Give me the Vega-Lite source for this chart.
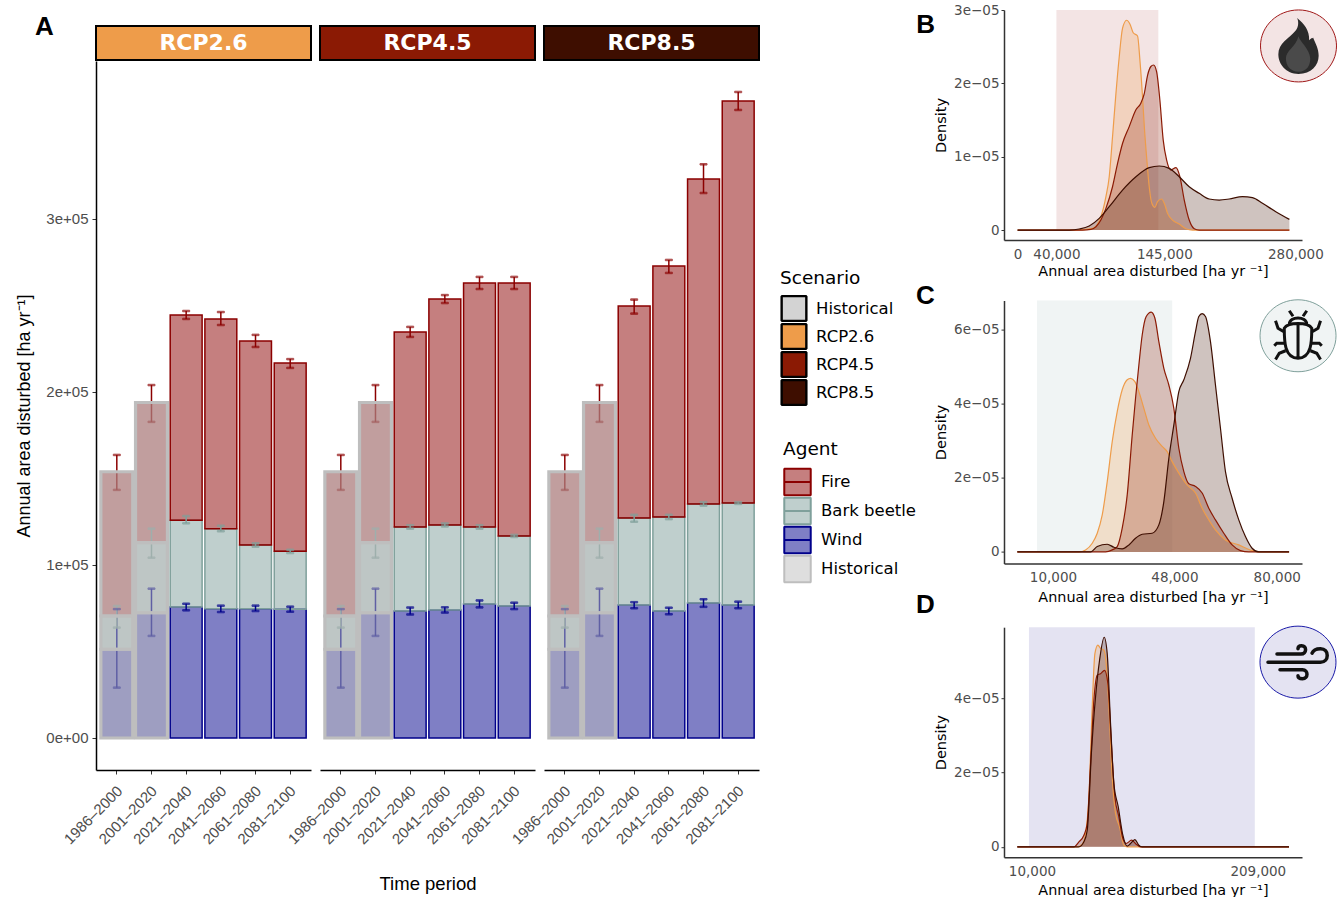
{"$schema":"https://vega.github.io/schema/vega-lite/v6.json","padding":{"left":15,"top":3,"right":0,"bottom":0},"background":"white","align":"none","config":{"view":{"stroke":null},"font":"DejaVu Sans","legend":{"orient":"none"}},"resolve":{"scale":{"fill":"independent","stroke":"independent","color":"independent"},"legend":{"fill":"independent","stroke":"independent","color":"independent"}},"spacing":0,"datasets":{"icon":[{"icon":"agent"}],"strips":[{"scenario":"RCP2.6"},{"scenario":"RCP4.5"},{"scenario":"RCP8.5"}],"bars":[
{"panel":"Historical","period":"1986–2000","agent":"Wind","rank":1,"value":51300,"lo":29100,"hi":74500},
{"panel":"Historical","period":"1986–2000","agent":"Bark beetle","rank":2,"value":19200,"lo":63800,"hi":76300},
{"panel":"Historical","period":"1986–2000","agent":"Fire","rank":3,"value":83400,"lo":143400,"hi":163600},
{"panel":"Historical","period":"2001–2020","agent":"Wind","rank":1,"value":72400,"lo":59000,"hi":86300},
{"panel":"Historical","period":"2001–2020","agent":"Bark beetle","rank":2,"value":40500,"lo":104200,"hi":121000},
{"panel":"Historical","period":"2001–2020","agent":"Fire","rank":3,"value":81000,"lo":182700,"hi":204000},
{"panel":"RCP2.6","period":"2021–2040","agent":"Wind","rank":1,"value":75700,"lo":73800,"hi":77600},
{"panel":"RCP2.6","period":"2021–2040","agent":"Bark beetle","rank":2,"value":50100,"lo":124100,"hi":128300},
{"panel":"RCP2.6","period":"2021–2040","agent":"Fire","rank":3,"value":118700,"lo":242200,"hi":246800},
{"panel":"RCP2.6","period":"2041–2060","agent":"Wind","rank":1,"value":74700,"lo":72800,"hi":76500},
{"panel":"RCP2.6","period":"2041–2060","agent":"Bark beetle","rank":2,"value":46300,"lo":119500,"hi":122700},
{"panel":"RCP2.6","period":"2041–2060","agent":"Fire","rank":3,"value":121200,"lo":238700,"hi":246200},
{"panel":"RCP2.6","period":"2061–2080","agent":"Wind","rank":1,"value":74700,"lo":73400,"hi":76500},
{"panel":"RCP2.6","period":"2061–2080","agent":"Bark beetle","rank":2,"value":36900,"lo":110600,"hi":112500},
{"panel":"RCP2.6","period":"2061–2080","agent":"Fire","rank":3,"value":117900,"lo":226000,"hi":233000},
{"panel":"RCP2.6","period":"2081–2100","agent":"Wind","rank":1,"value":74400,"lo":73000,"hi":75900},
{"panel":"RCP2.6","period":"2081–2100","agent":"Bark beetle","rank":2,"value":33500,"lo":106900,"hi":108800},
{"panel":"RCP2.6","period":"2081–2100","agent":"Fire","rank":3,"value":108900,"lo":213900,"hi":219000},
{"panel":"RCP4.5","period":"2021–2040","agent":"Wind","rank":1,"value":73400,"lo":71400,"hi":75400},
{"panel":"RCP4.5","period":"2021–2040","agent":"Bark beetle","rank":2,"value":48600,"lo":121000,"hi":123000},
{"panel":"RCP4.5","period":"2021–2040","agent":"Fire","rank":3,"value":112700,"lo":231800,"hi":237600},
{"panel":"RCP4.5","period":"2041–2060","agent":"Wind","rank":1,"value":74000,"lo":72500,"hi":75500},
{"panel":"RCP4.5","period":"2041–2060","agent":"Bark beetle","rank":2,"value":49100,"lo":122300,"hi":124000},
{"panel":"RCP4.5","period":"2041–2060","agent":"Fire","rank":3,"value":130700,"lo":251400,"hi":256000},
{"panel":"RCP4.5","period":"2061–2080","agent":"Wind","rank":1,"value":77500,"lo":75500,"hi":79500},
{"panel":"RCP4.5","period":"2061–2080","agent":"Bark beetle","rank":2,"value":44500,"lo":121000,"hi":123000},
{"panel":"RCP4.5","period":"2061–2080","agent":"Fire","rank":3,"value":141000,"lo":259500,"hi":266500},
{"panel":"RCP4.5","period":"2081–2100","agent":"Wind","rank":1,"value":76300,"lo":74500,"hi":78200},
{"panel":"RCP4.5","period":"2081–2100","agent":"Bark beetle","rank":2,"value":40500,"lo":116200,"hi":117400},
{"panel":"RCP4.5","period":"2081–2100","agent":"Fire","rank":3,"value":146200,"lo":259500,"hi":266500},
{"panel":"RCP8.5","period":"2021–2040","agent":"Wind","rank":1,"value":76900,"lo":75000,"hi":78500},
{"panel":"RCP8.5","period":"2021–2040","agent":"Bark beetle","rank":2,"value":50300,"lo":125000,"hi":129000},
{"panel":"RCP8.5","period":"2021–2040","agent":"Fire","rank":3,"value":122500,"lo":245300,"hi":253400},
{"panel":"RCP8.5","period":"2041–2060","agent":"Wind","rank":1,"value":73400,"lo":71500,"hi":75300},
{"panel":"RCP8.5","period":"2041–2060","agent":"Bark beetle","rank":2,"value":54300,"lo":126500,"hi":129000},
{"panel":"RCP8.5","period":"2041–2060","agent":"Fire","rank":3,"value":145100,"lo":268800,"hi":276300},
{"panel":"RCP8.5","period":"2061–2080","agent":"Wind","rank":1,"value":78000,"lo":75800,"hi":80200},
{"panel":"RCP8.5","period":"2061–2080","agent":"Bark beetle","rank":2,"value":57300,"lo":134300,"hi":136300},
{"panel":"RCP8.5","period":"2061–2080","agent":"Fire","rank":3,"value":187800,"lo":315000,"hi":331600},
{"panel":"RCP8.5","period":"2081–2100","agent":"Wind","rank":1,"value":76900,"lo":75000,"hi":78800},
{"panel":"RCP8.5","period":"2081–2100","agent":"Bark beetle","rank":2,"value":58900,"lo":135300,"hi":136300},
{"panel":"RCP8.5","period":"2081–2100","agent":"Fire","rank":3,"value":232400,"lo":363000,"hi":373400}
],"fire":[
{"s":"RCP2.6","x":0,"y":0},{"s":"RCP2.6","x":60000,"y":0},{"s":"RCP2.6","x":77200,"y":2.3e-7},{"s":"RCP2.6","x":85800,"y":1.82e-6},{"s":"RCP2.6","x":91000,"y":4.55e-6},{"s":"RCP2.6","x":94400,"y":7.27e-6},{"s":"RCP2.6","x":97800,"y":1.27e-5},{"s":"RCP2.6","x":101300,"y":1.86e-5},{"s":"RCP2.6","x":104700,"y":2.36e-5},{"s":"RCP2.6","x":108100,"y":2.75e-5},{"s":"RCP2.6","x":112300,"y":2.86e-5},{"s":"RCP2.6","x":115700,"y":2.81e-5},{"s":"RCP2.6","x":119100,"y":2.69e-5},{"s":"RCP2.6","x":123600,"y":2.645e-5},{"s":"RCP2.6","x":126000,"y":2.32e-5},{"s":"RCP2.6","x":128700,"y":1.82e-5},{"s":"RCP2.6","x":130800,"y":1.36e-5},{"s":"RCP2.6","x":132900,"y":1e-5},{"s":"RCP2.6","x":135600,"y":5.9e-6},{"s":"RCP2.6","x":138300,"y":3.64e-6},{"s":"RCP2.6","x":141400,"y":3.09e-6},{"s":"RCP2.6","x":144200,"y":3.86e-6},{"s":"RCP2.6","x":148300,"y":4.23e-6},{"s":"RCP2.6","x":151400,"y":3.55e-6},{"s":"RCP2.6","x":154500,"y":2.27e-6},{"s":"RCP2.6","x":159600,"y":1.36e-6},{"s":"RCP2.6","x":166500,"y":8.2e-7},{"s":"RCP2.6","x":173400,"y":1.8e-7},{"s":"RCP2.6","x":180200,"y":0},{"s":"RCP2.6","x":280000,"y":0},
{"s":"RCP4.5","x":0,"y":0},{"s":"RCP4.5","x":66900,"y":0},{"s":"RCP4.5","x":75500,"y":9e-8},{"s":"RCP4.5","x":80700,"y":4.5e-7},{"s":"RCP4.5","x":85800,"y":1.36e-6},{"s":"RCP4.5","x":91000,"y":2.95e-6},{"s":"RCP4.5","x":97800,"y":5.9e-6},{"s":"RCP4.5","x":103000,"y":9.09e-6},{"s":"RCP4.5","x":108100,"y":1.18e-5},{"s":"RCP4.5","x":115000,"y":1.41e-5},{"s":"RCP4.5","x":121900,"y":1.64e-5},{"s":"RCP4.5","x":127000,"y":1.73e-5},{"s":"RCP4.5","x":130500,"y":1.86e-5},{"s":"RCP4.5","x":133900,"y":2.11e-5},{"s":"RCP4.5","x":137300,"y":2.23e-5},{"s":"RCP4.5","x":140100,"y":2.25e-5},{"s":"RCP4.5","x":143200,"y":2.16e-5},{"s":"RCP4.5","x":146600,"y":1.77e-5},{"s":"RCP4.5","x":150000,"y":1.23e-5},{"s":"RCP4.5","x":153500,"y":9.55e-6},{"s":"RCP4.5","x":157900,"y":8.18e-6},{"s":"RCP4.5","x":163100,"y":8.5e-6},{"s":"RCP4.5","x":167200,"y":7.27e-6},{"s":"RCP4.5","x":171700,"y":4.09e-6},{"s":"RCP4.5","x":176800,"y":1.36e-6},{"s":"RCP4.5","x":182000,"y":1.8e-7},{"s":"RCP4.5","x":187100,"y":0},{"s":"RCP4.5","x":280000,"y":0},
{"s":"RCP8.5","x":0,"y":0},{"s":"RCP8.5","x":40000,"y":0},{"s":"RCP8.5","x":53200,"y":0},{"s":"RCP8.5","x":63500,"y":1.4e-7},{"s":"RCP8.5","x":73800,"y":5.5e-7},{"s":"RCP8.5","x":84100,"y":1.59e-6},{"s":"RCP8.5","x":94400,"y":3.18e-6},{"s":"RCP8.5","x":108100,"y":5.45e-6},{"s":"RCP8.5","x":121900,"y":7.27e-6},{"s":"RCP8.5","x":135600,"y":8.5e-6},{"s":"RCP8.5","x":145900,"y":8.73e-6},{"s":"RCP8.5","x":156200,"y":8.41e-6},{"s":"RCP8.5","x":166500,"y":7.27e-6},{"s":"RCP8.5","x":176800,"y":5.9e-6},{"s":"RCP8.5","x":187100,"y":5e-6},{"s":"RCP8.5","x":197400,"y":4.23e-6},{"s":"RCP8.5","x":207700,"y":4.09e-6},{"s":"RCP8.5","x":218000,"y":4.23e-6},{"s":"RCP8.5","x":231700,"y":4.55e-6},{"s":"RCP8.5","x":242000,"y":4.41e-6},{"s":"RCP8.5","x":252300,"y":3.64e-6},{"s":"RCP8.5","x":266000,"y":2.5e-6},{"s":"RCP8.5","x":280000,"y":1.45e-6}
],"beetle":[
{"s":"RCP2.6","x":-1146,"y":0},{"s":"RCP2.6","x":18125,"y":0},{"s":"RCP2.6","x":20208,"y":5.4e-7},{"s":"RCP2.6","x":22292,"y":2.34e-6},{"s":"RCP2.6","x":23854,"y":5.05e-6},{"s":"RCP2.6","x":25417,"y":1e-5},{"s":"RCP2.6","x":26979,"y":1.9e-5},{"s":"RCP2.6","x":28542,"y":2.98e-5},{"s":"RCP2.6","x":30104,"y":3.79e-5},{"s":"RCP2.6","x":31667,"y":4.38e-5},{"s":"RCP2.6","x":33229,"y":4.65e-5},{"s":"RCP2.6","x":34271,"y":4.69e-5},{"s":"RCP2.6","x":35625,"y":4.6e-5},{"s":"RCP2.6","x":36875,"y":4.33e-5},{"s":"RCP2.6","x":38438,"y":3.88e-5},{"s":"RCP2.6","x":40000,"y":3.43e-5},{"s":"RCP2.6","x":42083,"y":3.07e-5},{"s":"RCP2.6","x":44167,"y":2.85e-5},{"s":"RCP2.6","x":45729,"y":2.71e-5},{"s":"RCP2.6","x":47292,"y":2.44e-5},{"s":"RCP2.6","x":49375,"y":2.13e-5},{"s":"RCP2.6","x":51979,"y":1.81e-5},{"s":"RCP2.6","x":54583,"y":1.59e-5},{"s":"RCP2.6","x":56667,"y":1.18e-5},{"s":"RCP2.6","x":58750,"y":8.65e-6},{"s":"RCP2.6","x":60833,"y":5.95e-6},{"s":"RCP2.6","x":63958,"y":3.24e-6},{"s":"RCP2.6","x":68125,"y":1.89e-6},{"s":"RCP2.6","x":72292,"y":3.6e-7},{"s":"RCP2.6","x":74375,"y":0},{"s":"RCP2.6","x":83854,"y":0},
{"s":"RCP4.5","x":-1146,"y":0},{"s":"RCP4.5","x":26458,"y":0},{"s":"RCP4.5","x":28542,"y":5.4e-7},{"s":"RCP4.5","x":30104,"y":1.44e-6},{"s":"RCP4.5","x":31667,"y":6.4e-6},{"s":"RCP4.5","x":33229,"y":1.54e-5},{"s":"RCP4.5","x":34792,"y":3.16e-5},{"s":"RCP4.5","x":35833,"y":4.15e-5},{"s":"RCP4.5","x":36875,"y":5.05e-5},{"s":"RCP4.5","x":37917,"y":5.86e-5},{"s":"RCP4.5","x":39167,"y":6.36e-5},{"s":"RCP4.5","x":40729,"y":6.48e-5},{"s":"RCP4.5","x":41875,"y":6.32e-5},{"s":"RCP4.5","x":43125,"y":5.68e-5},{"s":"RCP4.5","x":44688,"y":4.96e-5},{"s":"RCP4.5","x":46250,"y":4.51e-5},{"s":"RCP4.5","x":47813,"y":3.88e-5},{"s":"RCP4.5","x":49375,"y":2.8e-5},{"s":"RCP4.5","x":50938,"y":2.17e-5},{"s":"RCP4.5","x":52500,"y":1.84e-5},{"s":"RCP4.5","x":54583,"y":1.77e-5},{"s":"RCP4.5","x":56667,"y":1.59e-5},{"s":"RCP4.5","x":58750,"y":1.18e-5},{"s":"RCP4.5","x":60833,"y":8.65e-6},{"s":"RCP4.5","x":63438,"y":5.05e-6},{"s":"RCP4.5","x":66042,"y":1.89e-6},{"s":"RCP4.5","x":68646,"y":3.6e-7},{"s":"RCP4.5","x":71250,"y":0},{"s":"RCP4.5","x":83854,"y":0},
{"s":"RCP8.5","x":-1146,"y":0},{"s":"RCP8.5","x":21771,"y":0},{"s":"RCP8.5","x":23854,"y":1.44e-6},{"s":"RCP8.5","x":26979,"y":2.07e-6},{"s":"RCP8.5","x":29063,"y":1.26e-6},{"s":"RCP8.5","x":31667,"y":8.1e-7},{"s":"RCP8.5","x":33750,"y":1.89e-6},{"s":"RCP8.5","x":35833,"y":3.69e-6},{"s":"RCP8.5","x":37917,"y":4.77e-6},{"s":"RCP8.5","x":41042,"y":5.05e-6},{"s":"RCP8.5","x":43125,"y":7.3e-6},{"s":"RCP8.5","x":44688,"y":1.36e-5},{"s":"RCP8.5","x":46250,"y":2.53e-5},{"s":"RCP8.5","x":47813,"y":3.43e-5},{"s":"RCP8.5","x":49375,"y":4.33e-5},{"s":"RCP8.5","x":50938,"y":4.65e-5},{"s":"RCP8.5","x":53021,"y":5.23e-5},{"s":"RCP8.5","x":54583,"y":5.95e-5},{"s":"RCP8.5","x":55625,"y":6.36e-5},{"s":"RCP8.5","x":56667,"y":6.44e-5},{"s":"RCP8.5","x":57708,"y":6.36e-5},{"s":"RCP8.5","x":59271,"y":5.68e-5},{"s":"RCP8.5","x":60833,"y":4.51e-5},{"s":"RCP8.5","x":62396,"y":3.34e-5},{"s":"RCP8.5","x":63958,"y":2.17e-5},{"s":"RCP8.5","x":66042,"y":1.45e-5},{"s":"RCP8.5","x":68125,"y":8.65e-6},{"s":"RCP8.5","x":70208,"y":4.14e-6},{"s":"RCP8.5","x":72292,"y":9.9e-7},{"s":"RCP8.5","x":74375,"y":0},{"s":"RCP8.5","x":83854,"y":0}
],"wind":[
{"s":"RCP2.6","x":-270,"y":0},{"s":"RCP2.6","x":52543,"y":0},{"s":"RCP2.6","x":56944,"y":7.2e-7},{"s":"RCP2.6","x":59878,"y":3.59e-6},{"s":"RCP2.6","x":62812,"y":1.35e-5},{"s":"RCP2.6","x":65746,"y":3.77e-5},{"s":"RCP2.6","x":68093,"y":5.2e-5},{"s":"RCP2.6","x":70734,"y":5.43e-5},{"s":"RCP2.6","x":73081,"y":5.34e-5},{"s":"RCP2.6","x":76015,"y":5.29e-5},{"s":"RCP2.6","x":78069,"y":4.93e-5},{"s":"RCP2.6","x":80416,"y":3.77e-5},{"s":"RCP2.6","x":83350,"y":1.88e-5},{"s":"RCP2.6","x":86284,"y":9e-6},{"s":"RCP2.6","x":89805,"y":5.4e-6},{"s":"RCP2.6","x":93619,"y":4.5e-7},{"s":"RCP2.6","x":96553,"y":0},{"s":"RCP2.6","x":239150,"y":0},
{"s":"RCP4.5","x":-270,"y":0},{"s":"RCP4.5","x":49609,"y":0},{"s":"RCP4.5","x":54010,"y":1.35e-6},{"s":"RCP4.5","x":58411,"y":3.14e-6},{"s":"RCP4.5","x":61345,"y":6.28e-6},{"s":"RCP4.5","x":64279,"y":2.24e-5},{"s":"RCP4.5","x":67213,"y":3.95e-5},{"s":"RCP4.5","x":70147,"y":4.62e-5},{"s":"RCP4.5","x":73081,"y":4.66e-5},{"s":"RCP4.5","x":76602,"y":4.75e-5},{"s":"RCP4.5","x":79536,"y":4.39e-5},{"s":"RCP4.5","x":82470,"y":2.87e-5},{"s":"RCP4.5","x":85697,"y":1.35e-5},{"s":"RCP4.5","x":89218,"y":8.07e-6},{"s":"RCP4.5","x":92739,"y":2.24e-6},{"s":"RCP4.5","x":95673,"y":9e-7},{"s":"RCP4.5","x":100367,"y":1.79e-6},{"s":"RCP4.5","x":104475,"y":7.2e-7},{"s":"RCP4.5","x":108289,"y":0},{"s":"RCP4.5","x":239150,"y":0},
{"s":"RCP8.5","x":-270,"y":0},{"s":"RCP8.5","x":54010,"y":0},{"s":"RCP8.5","x":58411,"y":1.35e-6},{"s":"RCP8.5","x":61345,"y":4.48e-6},{"s":"RCP8.5","x":65159,"y":2.6e-5},{"s":"RCP8.5","x":68680,"y":4.04e-5},{"s":"RCP8.5","x":72201,"y":5.02e-5},{"s":"RCP8.5","x":76308,"y":5.64e-5},{"s":"RCP8.5","x":78949,"y":5.2e-5},{"s":"RCP8.5","x":81883,"y":3.32e-5},{"s":"RCP8.5","x":84817,"y":1.7e-5},{"s":"RCP8.5","x":88631,"y":1.08e-5},{"s":"RCP8.5","x":92739,"y":3.14e-6},{"s":"RCP8.5","x":96553,"y":1.8e-7},{"s":"RCP8.5","x":99487,"y":9e-7},{"s":"RCP8.5","x":103301,"y":1.97e-6},{"s":"RCP8.5","x":106822,"y":4.5e-7},{"s":"RCP8.5","x":109756,"y":0},{"s":"RCP8.5","x":239150,"y":0}
]},
"hconcat":[
{"spacing":0,"resolve":{"scale":{"fill":"independent","stroke":"independent","color":"independent"},"legend":{"fill":"independent","stroke":"independent","color":"independent"}},"vconcat":[
{"width":215,"height":4,"data":{"name":"strips"},"transform":[{"filter":"false"}],"mark":{"type":"rect"},"encoding":{}},
{"spacing":-27,"resolve":{"scale":{"fill":"independent","stroke":"independent","color":"independent"},"legend":{"fill":"independent","stroke":"independent","color":"independent"}},"hconcat":[
{"spacing":0,"resolve":{"scale":{"fill":"independent","stroke":"independent"},"legend":{"fill":"independent","stroke":"independent"}},"vconcat":[
{"width":215,"height":34,"data":{"name":"strips"},"transform":[{"filter":"datum.scenario=='RCP2.6'"}],"layer":[{"mark":{"type":"rect","stroke":"black","strokeWidth":2},"encoding":{"fill":{"field":"scenario","type":"nominal","legend":null,"scale":{"domain":["Historical","RCP2.6","RCP4.5","RCP8.5"],"range":["#D3D3D3","#EE9C4A","#8B1A04","#3E0E00"]}}}},{"mark":{"type":"text","font":"DejaVu Sans","fontSize":22,"fontWeight":"bold","color":"white"},"encoding":{"text":{"field":"scenario"}}},{"mark":{"type":"text","text":"A","align":"left","baseline":"alphabetic","dx":-168.5,"dy":-8,"font":"Liberation Sans","fontSize":26,"fontWeight":"bold","color":"black"},"encoding":{}}]},
{"width":215,"height":709,"data":{"name":"bars"},"transform":[{"filter":"datum.panel=='RCP2.6'||datum.panel=='Historical'"}],"encoding":{"x":{"field":"period","type":"nominal","sort":["1986–2000","2001–2020","2021–2040","2041–2060","2061–2080","2081–2100"],"scale":{"type":"band","paddingInner":0,"paddingOuter":0.1,"domain":["1986–2000","2001–2020","2021–2040","2041–2060","2061–2080","2081–2100"]},"axis":{"title":null,"labelAngle":-45,"labelAlign":"right","labelBaseline":"middle","labelOffset":3,"labelFont":"Liberation Sans","labelFontSize":15,"labelColor":"#4D4D4D","domainColor":"black","domainWidth":1.5,"tickColor":"#333333","tickSize":4,"labelPadding":14,"grid":false}}},"layer":[
{"mark":{"type":"bar","fillOpacity":0.5,"strokeWidth":1.5,"width":{"band":0.92}},"encoding":{"y":{"field":"value","type":"quantitative","stack":"zero","scale":{"domain":[-18500,391300],"nice":false,"zero":false},"axis":{"title":"Annual area disturbed [ha yr⁻¹]","titleFont":"Liberation Sans","titleFontSize":18,"titleFontWeight":"normal","titleColor":"black","titlePadding":12,"values":[0,100000,200000,300000],"labelExpr":"replace(format(datum.value,'.0e'),'e+','e+0')","labelFont":"Liberation Sans","labelFontSize":15,"labelColor":"#4D4D4D","labelPadding":4,"domainColor":"black","domainWidth":1.5,"tickColor":"#333333","tickSize":4,"grid":false}},"order":{"field":"rank"},"fill":{"field":"agent","type":"nominal","legend":null,"scale":{"domain":["Fire","Bark beetle","Wind","Historical"],"range":["#8B0000","#7FA09B","#00008B","#BEBEBE"]}},"stroke":{"field":"agent","type":"nominal","legend":null,"scale":{"domain":["Fire","Bark beetle","Wind","Historical"],"range":["#8B0000","#7FA09B","#00008B","#BEBEBE"]}}}},
{"mark":{"type":"rule","strokeWidth":1.5},"encoding":{"y":{"field":"lo","type":"quantitative"},"y2":{"field":"hi"},"stroke":{"field":"agent","type":"nominal","legend":null}}},
{"mark":{"type":"tick","size":7,"thickness":1.5},"encoding":{"y":{"field":"lo","type":"quantitative"},"fill":{"field":"agent","type":"nominal","legend":null},"stroke":{"field":"agent","type":"nominal","legend":null}}},
{"mark":{"type":"tick","size":7,"thickness":1.5},"encoding":{"y":{"field":"hi","type":"quantitative"},"fill":{"field":"agent","type":"nominal","legend":null},"stroke":{"field":"agent","type":"nominal","legend":null}}},
{"transform":[{"filter":"datum.panel=='Historical'"}],"mark":{"type":"bar","fill":"#BEBEBE","fillOpacity":0.5,"stroke":"#BEBEBE","strokeWidth":3.2,"width":{"band":0.92}},"encoding":{"y":{"field":"value","type":"quantitative","stack":"zero"},"order":{"field":"rank"},"detail":{"field":"agent"}}}
]}
]},
{"spacing":0,"resolve":{"scale":{"fill":"independent","stroke":"independent"},"legend":{"fill":"independent","stroke":"independent"}},"vconcat":[
{"width":215,"height":34,"data":{"name":"strips"},"transform":[{"filter":"datum.scenario=='RCP4.5'"}],"layer":[{"mark":{"type":"rect","stroke":"black","strokeWidth":2},"encoding":{"fill":{"field":"scenario","type":"nominal","legend":null,"scale":{"domain":["Historical","RCP2.6","RCP4.5","RCP8.5"],"range":["#D3D3D3","#EE9C4A","#8B1A04","#3E0E00"]}}}},{"mark":{"type":"text","font":"DejaVu Sans","fontSize":22,"fontWeight":"bold","color":"white"},"encoding":{"text":{"field":"scenario"}}}]},
{"width":215,"height":709,"data":{"name":"bars"},"transform":[{"filter":"datum.panel=='RCP4.5'||datum.panel=='Historical'"}],"encoding":{"x":{"field":"period","type":"nominal","sort":["1986–2000","2001–2020","2021–2040","2041–2060","2061–2080","2081–2100"],"scale":{"type":"band","paddingInner":0,"paddingOuter":0.1,"domain":["1986–2000","2001–2020","2021–2040","2041–2060","2061–2080","2081–2100"]},"axis":{"title":"Time period","titleFont":"Liberation Sans","titleFontSize":18.5,"titleFontWeight":"normal","titleColor":"black","titlePadding":28,"labelAngle":-45,"labelAlign":"right","labelBaseline":"middle","labelOffset":3,"labelFont":"Liberation Sans","labelFontSize":15,"labelColor":"#4D4D4D","domainColor":"black","domainWidth":1.5,"tickColor":"#333333","tickSize":4,"labelPadding":14,"grid":false}}},"layer":[
{"mark":{"type":"bar","fillOpacity":0.5,"strokeWidth":1.5,"width":{"band":0.92}},"encoding":{"y":{"field":"value","type":"quantitative","stack":"zero","scale":{"domain":[-18500,391300],"nice":false,"zero":false},"axis":null},"order":{"field":"rank"},"fill":{"field":"agent","type":"nominal","legend":null,"scale":{"domain":["Fire","Bark beetle","Wind","Historical"],"range":["#8B0000","#7FA09B","#00008B","#BEBEBE"]}},"stroke":{"field":"agent","type":"nominal","legend":null,"scale":{"domain":["Fire","Bark beetle","Wind","Historical"],"range":["#8B0000","#7FA09B","#00008B","#BEBEBE"]}}}},
{"mark":{"type":"rule","strokeWidth":1.5},"encoding":{"y":{"field":"lo","type":"quantitative"},"y2":{"field":"hi"},"stroke":{"field":"agent","type":"nominal","legend":null}}},
{"mark":{"type":"tick","size":7,"thickness":1.5},"encoding":{"y":{"field":"lo","type":"quantitative"},"fill":{"field":"agent","type":"nominal","legend":null},"stroke":{"field":"agent","type":"nominal","legend":null}}},
{"mark":{"type":"tick","size":7,"thickness":1.5},"encoding":{"y":{"field":"hi","type":"quantitative"},"fill":{"field":"agent","type":"nominal","legend":null},"stroke":{"field":"agent","type":"nominal","legend":null}}},
{"transform":[{"filter":"datum.panel=='Historical'"}],"mark":{"type":"bar","fill":"#BEBEBE","fillOpacity":0.5,"stroke":"#BEBEBE","strokeWidth":3.2,"width":{"band":0.92}},"encoding":{"y":{"field":"value","type":"quantitative","stack":"zero"},"order":{"field":"rank"},"detail":{"field":"agent"}}}
]}
]},
{"spacing":0,"resolve":{"scale":{"fill":"independent","stroke":"independent","color":"independent"},"legend":{"fill":"independent","stroke":"independent","color":"independent"}},"vconcat":[
{"width":215,"height":34,"data":{"name":"strips"},"transform":[{"filter":"datum.scenario=='RCP8.5'"}],"layer":[{"mark":{"type":"rect","stroke":"black","strokeWidth":2},"encoding":{"fill":{"field":"scenario","type":"nominal","legend":null,"scale":{"domain":["Historical","RCP2.6","RCP4.5","RCP8.5"],"range":["#D3D3D3","#EE9C4A","#8B1A04","#3E0E00"]}}}},{"mark":{"type":"text","font":"DejaVu Sans","fontSize":22,"fontWeight":"bold","color":"white"},"encoding":{"text":{"field":"scenario"}}}]},
{"width":215,"height":709,"data":{"name":"bars"},"transform":[{"filter":"datum.panel=='RCP8.5'||datum.panel=='Historical'"}],"encoding":{"x":{"field":"period","type":"nominal","sort":["1986–2000","2001–2020","2021–2040","2041–2060","2061–2080","2081–2100"],"scale":{"type":"band","paddingInner":0,"paddingOuter":0.1,"domain":["1986–2000","2001–2020","2021–2040","2041–2060","2061–2080","2081–2100"]},"axis":{"title":null,"labelAngle":-45,"labelAlign":"right","labelBaseline":"middle","labelOffset":3,"labelFont":"Liberation Sans","labelFontSize":15,"labelColor":"#4D4D4D","domainColor":"black","domainWidth":1.5,"tickColor":"#333333","tickSize":4,"labelPadding":14,"grid":false}}},"layer":[
{"mark":{"type":"bar","fillOpacity":0.5,"strokeWidth":1.5,"width":{"band":0.92}},"encoding":{"y":{"field":"value","type":"quantitative","stack":"zero","scale":{"domain":[-18500,391300],"nice":false,"zero":false},"axis":null},"order":{"field":"rank"},"fill":{"field":"agent","type":"nominal","legend":{"title":"Agent","orient":"none","legendX":239,"legendY":379,"symbolType":"M-1,-1H1V1H-1ZM-1,0H1","symbolSize":576,"labelFont":"DejaVu Sans","labelFontSize":16.5,"labelColor":"black","labelOffset":9,"titleFont":"DejaVu Sans","titleFontSize":18.5,"titleFontWeight":"normal","titleColor":"black","titlePadding":9,"rowPadding":-4,"symbolStrokeWidth":2,"encode":{"symbols":{"update":{"size":{"value":700},"strokeJoin":{"value":"bevel"},"shape":{"signal":"datum.value=='Historical'?'square':'M-1,-1H1V1H-1ZM-1,0H1'"},"fillOpacity":{"value":0.5},"opacity":{"value":1}}}}},"scale":{"domain":["Fire","Bark beetle","Wind","Historical"],"range":["#8B0000","#7FA09B","#00008B","#BEBEBE"]}},"stroke":{"field":"agent","type":"nominal","legend":{"title":"Agent","orient":"none","legendX":239,"legendY":379,"symbolType":"M-1,-1H1V1H-1ZM-1,0H1","symbolSize":576,"labelFont":"DejaVu Sans","labelFontSize":16.5,"labelColor":"black","labelOffset":9,"titleFont":"DejaVu Sans","titleFontSize":18.5,"titleFontWeight":"normal","titleColor":"black","titlePadding":9,"rowPadding":-4,"symbolStrokeWidth":2,"encode":{"symbols":{"update":{"size":{"value":700},"strokeJoin":{"value":"bevel"},"shape":{"signal":"datum.value=='Historical'?'square':'M-1,-1H1V1H-1ZM-1,0H1'"},"fillOpacity":{"value":0.5},"opacity":{"value":1}}}}},"scale":{"domain":["Fire","Bark beetle","Wind","Historical"],"range":["#8B0000","#7FA09B","#00008B","#BEBEBE"]}}}},
{"mark":{"type":"rule","strokeWidth":1.5},"encoding":{"y":{"field":"lo","type":"quantitative"},"y2":{"field":"hi"},"stroke":{"field":"agent","type":"nominal","legend":null}}},
{"mark":{"type":"tick","size":7,"thickness":1.5},"encoding":{"y":{"field":"lo","type":"quantitative"},"fill":{"field":"agent","type":"nominal","legend":null},"stroke":{"field":"agent","type":"nominal","legend":null}}},
{"mark":{"type":"tick","size":7,"thickness":1.5},"encoding":{"y":{"field":"hi","type":"quantitative"},"fill":{"field":"agent","type":"nominal","legend":null},"stroke":{"field":"agent","type":"nominal","legend":null}}},
{"transform":[{"filter":"datum.panel=='Historical'"}],"mark":{"type":"bar","fill":"#BEBEBE","fillOpacity":0.5,"stroke":"#BEBEBE","strokeWidth":3.2,"width":{"band":0.92}},"encoding":{"y":{"field":"value","type":"quantitative","stack":"zero"},"order":{"field":"rank"},"detail":{"field":"agent"}}},
{"data":{"name":"strips"},"transform":[{"filter":"false"}],"mark":{"type":"rect"},"encoding":{"x":{"value":0},"y":{"value":0},"color":{"field":"scenario","type":"nominal","legend":{"title":"Scenario","orient":"none","legendX":236,"legendY":208,"symbolType":"square","symbolSize":400,"symbolStrokeColor":"black","symbolStrokeWidth":2.4,"symbolOpacity":1,"labelFont":"DejaVu Sans","labelFontSize":16.5,"labelColor":"black","labelOffset":8,"titleFont":"DejaVu Sans","titleFontSize":18.5,"titleFontWeight":"normal","titleColor":"black","titlePadding":7,"rowPadding":-4,"encode":{"symbols":{"update":{"size":{"value":610},"strokeJoin":{"value":"bevel"}}}}},"scale":{"domain":["Historical","RCP2.6","RCP4.5","RCP8.5"],"range":["#D3D3D3","#EE9C4A","#8B1A04","#3E0E00"]}}}}
]}
]}
]}
]},
{"spacing":-12.4,"resolve":{"scale":{"color":"independent"},"legend":{"color":"independent"}},"vconcat":[
{"width":298,"height":230,"layer":[
{"data":{"values":[{"lo":40000,"hi":145000,"base":0,"top":3e-5}]},"mark":{"type":"rect","fill":"#F3E4E4"},"encoding":{"x":{"field":"lo","type":"quantitative","scale":{"domain":[-14000,293000],"nice":false,"zero":false},"axis":{"title":"Annual area disturbed [ha yr ⁻¹]","titleFont":"DejaVu Sans","titleFontSize":14.4,"titleFontWeight":"normal","titleColor":"black","titlePadding":4,"values":[0,40000,145000,280000],"format":",.0f","labelFont":"DejaVu Sans","labelFontSize":13.5,"labelColor":"#4D4D4D","labelPadding":7,"labelOffset":{"condition":{"test":"datum.value>=145000","value":6},"value":0},"ticks":false,"domainColor":"#333333","domainWidth":1.5,"grid":false,"labelFlush":false,"labelOverlap":false}},"x2":{"field":"hi"},"y":{"field":"base","type":"quantitative","scale":{"domain":[-1.36e-6,3e-5],"nice":false,"zero":false},"axis":{"title":"Density","titleFont":"DejaVu Sans","titleFontSize":14.5,"titleFontWeight":"normal","titleColor":"black","titlePadding":5,"values":[0,1e-5,2e-5,3e-5],"labelExpr":"datum.value==0?'0':replace(format(datum.value,'.0e'),'e-','e−0')","labelFont":"DejaVu Sans","labelFontSize":13.5,"labelColor":"#4D4D4D","domainColor":"#333333","domainWidth":1.5,"tickColor":"#333333","tickSize":3,"grid":false}},"y2":{"field":"top"}}},
{"data":{"name":"fire"},"mark":{"type":"area","fillOpacity":0.25,"interpolate":"monotone"},"encoding":{"x":{"field":"x","type":"quantitative"},"y":{"field":"y","type":"quantitative","stack":null},"color":{"field":"s","type":"nominal","legend":null,"scale":{"domain":["RCP2.6","RCP4.5","RCP8.5"],"range":["#EE9C4A","#8B1A04","#3E0E00"]}}}},
{"data":{"name":"fire"},"mark":{"type":"line","strokeWidth":1.2,"interpolate":"monotone"},"encoding":{"x":{"field":"x","type":"quantitative"},"y":{"field":"y","type":"quantitative"},"color":{"field":"s","type":"nominal","legend":null}}},
{"data":{"name":"icon"},"mark":{"type":"text","text":"B","align":"left","baseline":"alphabetic","font":"Liberation Sans","fontSize":26,"fontWeight":"bold","color":"black"},"encoding":{"x":{"datum":-104300,"type":"quantitative"},"y":{"datum":2.686e-5,"type":"quantitative"}}},
{"data":{"name":"icon"},"mark":{"type":"point","shape":"M-1,0A1,0.947,0,1,1,1,0A1,0.947,0,1,1,-1,0Z","size":5776,"filled":true,"fill":"#F3E4E4","stroke":"#A01818","strokeWidth":1,"opacity":1},"encoding":{"x":{"datum":289400,"type":"quantitative"},"y":{"datum":2.51e-5,"type":"quantitative"}}},
{"data":{"name":"icon"},"mark":{"type":"point","shape":"M0,1C-0.45,1,-0.72,0.65,-0.72,0.3C-0.72,-0.1,-0.35,-0.25,-0.1,-0.55C0.02,-0.7,0,-0.9,-0.05,-1C0.2,-0.8,0.4,-0.55,0.38,-0.2C0.45,-0.3,0.5,-0.25,0.52,-0.3C0.62,-0.05,0.72,0.1,0.72,0.35C0.72,0.7,0.45,1,0,1Z","size":3136,"filled":true,"fill":"#2B2B2B","opacity":1},"encoding":{"x":{"datum":289400,"type":"quantitative"},"y":{"datum":2.51e-5,"type":"quantitative"}}},
{"data":{"name":"icon"},"mark":{"type":"point","shape":"M0,0.92C-0.3,0.92,-0.45,0.7,-0.45,0.45C-0.45,0.15,-0.1,0.05,0,-0.35C0.05,-0.15,0.4,0.1,0.42,0.45C0.42,0.7,0.3,0.92,0,0.92Z","size":3136,"filled":true,"fill":"#4A4A4A","opacity":1},"encoding":{"x":{"datum":289400,"type":"quantitative"},"y":{"datum":2.51e-5,"type":"quantitative"}}}
]},
{"width":298,"height":263,"title":{"text":["","C"],"lineHeight":16.8,"anchor":"start","frame":"group","dx":-88,"dy":11.5,"font":"Liberation Sans","fontSize":26,"fontWeight":"bold","color":"black","offset":0},"layer":[
{"data":{"values":[{"lo":5000,"hi":47300,"base":0,"top":6.79e-5}]},"mark":{"type":"rect","fill":"#F0F4F4"},"encoding":{"x":{"field":"lo","type":"quantitative","scale":{"domain":[-5312,87900],"nice":false,"zero":false},"axis":{"title":"Annual area disturbed [ha yr ⁻¹]","titleFont":"DejaVu Sans","titleFontSize":14.4,"titleFontWeight":"normal","titleColor":"black","titlePadding":6,"values":[10000,48000,80000],"format":",.0f","labelFont":"DejaVu Sans","labelFontSize":13.5,"labelColor":"#4D4D4D","labelPadding":7,"ticks":false,"domainColor":"#333333","domainWidth":1.5,"grid":false,"labelFlush":false,"labelOverlap":false}},"x2":{"field":"hi"},"y":{"field":"base","type":"quantitative","scale":{"domain":[-3.16e-6,6.79e-5],"nice":false,"zero":false},"axis":{"title":"Density","titleFont":"DejaVu Sans","titleFontSize":14.5,"titleFontWeight":"normal","titleColor":"black","titlePadding":5,"values":[0,2e-5,4e-5,6e-5],"labelExpr":"datum.value==0?'0':replace(format(datum.value,'.0e'),'e-','e−0')","labelFont":"DejaVu Sans","labelFontSize":13.5,"labelColor":"#4D4D4D","domainColor":"#333333","domainWidth":1.5,"tickColor":"#333333","tickSize":3,"grid":false}},"y2":{"field":"top"}}},
{"data":{"name":"beetle"},"mark":{"type":"area","fillOpacity":0.25,"interpolate":"monotone"},"encoding":{"x":{"field":"x","type":"quantitative"},"y":{"field":"y","type":"quantitative","stack":null},"color":{"field":"s","type":"nominal","legend":null,"scale":{"domain":["RCP2.6","RCP4.5","RCP8.5"],"range":["#EE9C4A","#8B1A04","#3E0E00"]}}}},
{"data":{"name":"beetle"},"mark":{"type":"line","strokeWidth":1.2,"interpolate":"monotone"},"encoding":{"x":{"field":"x","type":"quantitative"},"y":{"field":"y","type":"quantitative"},"color":{"field":"s","type":"nominal","legend":null}}},
{"data":{"name":"icon"},"mark":{"type":"point","shape":"M-1,0A1,0.947,0,1,1,1,0A1,0.947,0,1,1,-1,0Z","size":5776,"filled":true,"fill":"#F0F4F4","stroke":"#7FA09B","strokeWidth":1,"opacity":1},"encoding":{"x":{"datum":86656,"type":"quantitative"},"y":{"datum":5.84e-5,"type":"quantitative"}}},
{"data":{"name":"icon"},"mark":{"type":"point","shape":"M-0.55,-0.3C-0.55,0.2,-0.55,0.9,0,0.9C0.55,0.9,0.55,0.2,0.55,-0.3C0.4,-0.55,-0.4,-0.55,-0.55,-0.3ZM0,-0.45V0.9M-0.35,-0.45C-0.35,-0.8,0.35,-0.8,0.35,-0.45M-0.2,-0.78L-0.35,-1M0.2,-0.78L0.35,-1M-0.55,-0.15L-0.8,-0.3L-0.9,-0.6M0.55,-0.15L0.8,-0.3L0.9,-0.6M-0.55,0.3L-0.85,0.3L-0.95,0.4M0.55,0.3L0.85,0.3L0.95,0.4M-0.5,0.6L-0.75,0.7L-0.9,0.95M0.5,0.6L0.75,0.7L0.9,0.95","size":2500,"filled":false,"stroke":"#111111","strokeWidth":3,"opacity":1},"encoding":{"x":{"datum":86656,"type":"quantitative"},"y":{"datum":5.84e-5,"type":"quantitative"}}}
]},
{"width":298,"height":230,"title":{"text":"D","anchor":"start","frame":"group","dx":-88,"dy":-6,"font":"Liberation Sans","fontSize":26,"fontWeight":"bold","color":"black","offset":0},"layer":[
{"data":{"values":[{"lo":10000,"hi":209000,"base":0,"top":5.91e-5}]},"mark":{"type":"rect","fill":"#E4E3F2"},"encoding":{"x":{"field":"lo","type":"quantitative","scale":{"domain":[-12000,250600],"nice":false,"zero":false},"axis":{"title":"Annual area disturbed [ha yr ⁻¹]","titleFont":"DejaVu Sans","titleFontSize":14.4,"titleFontWeight":"normal","titleColor":"black","titlePadding":6,"values":[10000,209000],"format":",.0f","labelFont":"DejaVu Sans","labelFontSize":13.5,"labelColor":"#4D4D4D","labelPadding":7,"labelOffset":3,"ticks":false,"domainColor":"#333333","domainWidth":1.5,"grid":false,"labelFlush":false,"labelOverlap":false}},"x2":{"field":"hi"},"y":{"field":"base","type":"quantitative","scale":{"domain":[-2.78e-6,5.91e-5],"nice":false,"zero":false},"axis":{"title":"Density","titleFont":"DejaVu Sans","titleFontSize":14.5,"titleFontWeight":"normal","titleColor":"black","titlePadding":5,"values":[0,2e-5,4e-5],"labelExpr":"datum.value==0?'0':replace(format(datum.value,'.0e'),'e-','e−0')","labelFont":"DejaVu Sans","labelFontSize":13.5,"labelColor":"#4D4D4D","domainColor":"#333333","domainWidth":1.5,"tickColor":"#333333","tickSize":3,"grid":false}},"y2":{"field":"top"}}},
{"data":{"name":"wind"},"mark":{"type":"area","fillOpacity":0.25,"interpolate":"monotone"},"encoding":{"x":{"field":"x","type":"quantitative"},"y":{"field":"y","type":"quantitative","stack":null},"color":{"field":"s","type":"nominal","legend":null,"scale":{"domain":["RCP2.6","RCP4.5","RCP8.5"],"range":["#EE9C4A","#8B1A04","#3E0E00"]}}}},
{"data":{"name":"wind"},"mark":{"type":"line","strokeWidth":1.2,"interpolate":"monotone"},"encoding":{"x":{"field":"x","type":"quantitative"},"y":{"field":"y","type":"quantitative"},"color":{"field":"s","type":"nominal","legend":null}}},
{"data":{"name":"icon"},"mark":{"type":"point","shape":"M-1,0A1,0.947,0,1,1,1,0A1,0.947,0,1,1,-1,0Z","size":5776,"filled":true,"fill":"#E4E3F2","stroke":"#1A1AA8","strokeWidth":1,"opacity":1},"encoding":{"x":{"datum":247060,"type":"quantitative"},"y":{"datum":4.97e-5,"type":"quantitative"}}},
{"data":{"name":"icon"},"mark":{"type":"point","shape":"M-0.7,-0.27H0.1C0.3,-0.27,0.3,-0.55,0.12,-0.55C0.03,-0.55,0,-0.5,0,-0.45M-1,0H0.75C1.05,0,1.05,-0.45,0.75,-0.45C0.6,-0.45,0.5,-0.38,0.47,-0.3M-0.6,0.25H0.15C0.35,0.25,0.35,0.55,0.15,0.55C0.05,0.55,0,0.5,0,0.45","size":3600,"filled":false,"stroke":"#111111","strokeWidth":3.5,"strokeCap":"round","opacity":1},"encoding":{"x":{"datum":247060,"type":"quantitative"},"y":{"datum":4.97e-5,"type":"quantitative"}}}
]}
]}
]}
